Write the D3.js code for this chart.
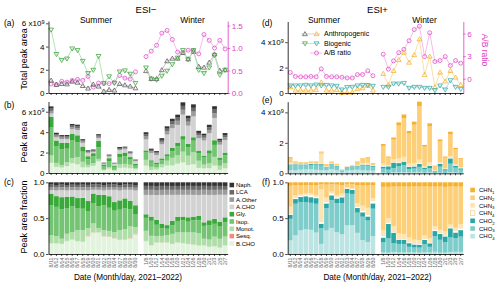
<!DOCTYPE html>
<html>
<head>
<meta charset="utf-8">
<script src="https://cdn.jsdelivr.net/npm/d3@7"></script>
<style>
body { margin: 0; background: #fff; }
svg { font-family: "Liberation Sans", Arial, sans-serif; }
</style>
</head>
<body>
<svg id="chart" width="500" height="286"></svg>
<script>
// sampling dates
const summerDates = ["8/11","8/12","8/14","8/15","8/16","8/17","8/18","8/19","8/20","8/21","8/22","8/23","8/24","8/27","8/28","8/29","8/30"];
const winterDates = ["1/8","1/10","1/12","1/14","1/16","1/18","1/20","1/22","1/24","1/26","1/28","1/30","2/1","2/3","2/5","2/7"];

// (a) ESI- totals, x1e9 (summer then winter)
const negAnth = [1.08,.71,.79,.76,.99,.9,.62,.4,.74,.57,.14,.28,.23,.79,.68,.57,.42,
  1.9,1.22,1.22,1.98,2.75,2.97,2.97,3.46,2.92,3.54,2.27,2.2,2.63,3.34,1.93,1.98];
const negBio = [5.44,3.34,2.83,2.95,3.82,3.68,2.75,1.7,1.98,3.17,.85,1.42,.85,1.84,1.93,1.64,.85,
  2.18,1.22,1.13,1.47,1.9,2.46,3.03,3.68,2.89,3.68,1.98,1.7,2.18,3.26,1.56,1.98];
const negRatio = [.2,.19,.26,.24,.28,.3,.28,.37,.13,.22,.21,.21,.24,.39,.33,.31,.47,
  .81,.93,1.06,1.33,1.39,1.19,.91,.9,.95,.94,.87,1.3,1.17,1.0,1.17,.98];

// (d) ESI+ totals, x1e9
const posAnth = [.47,.21,.21,.21,.21,.26,.84,.21,.21,.24,.02,.05,.05,.31,.39,.58,.21,
  1.52,.65,1.75,2.61,3.19,2.4,3.0,4.24,1.44,2.88,.47,1.62,.92,1.75,1.23,.65];
const posBio = [.58,.58,.58,.63,.58,.65,.58,.62,.58,.55,.26,.45,.47,.58,.62,.62,.55,
  .47,.47,.73,.73,.78,.39,.47,.47,.39,.39,.21,.58,.26,.99,.47,.31];
const posRatio = [.83,.3,.25,.25,.3,.25,1.3,.3,.25,.25,.2,.1,.1,.55,.55,1.05,.4,
  3.25,1.27,2.37,3.46,3.9,5.04,6.53,6.97,2.94,6.1,2.28,2.41,2.94,1.75,2.41,2.06];

// (b) ESI- peak area by class, x1e9
const negBCHO = [.98,.59,.52,.67,.96,.85,.56,.55,.69,1.14,.25,.43,.22,.5,.52,.46,.36,
  .72,.29,.34,.54,.73,.74,.91,1.04,.78,.87,.49,.46,.47,.72,.3,.47];
const negSesq = [.02,.01,.01,.01,.01,.01,.01,.01,.01,.01,.003,.01,.003,.01,.01,.01,.01,
  .01,.005,.004,.01,.01,.01,.01,.01,.01,.01,.01,.01,.01,.01,.01,.01];
const negMonot = [.72,.39,.26,.37,.48,.71,.53,.24,.28,.23,.08,.14,.08,.33,.36,.34,.12,
  .56,.31,.19,.31,.46,.74,.8,1.04,.9,1.14,.7,.35,.47,.85,.4,.47];
const negIsop = [2.73,1.6,1.52,1.33,1.73,1.46,.99,.53,.64,1.14,.35,.58,.3,.73,.75,.5,.23,
  .72,.5,.34,.37,.41,.64,.91,1.17,.84,1.14,.74,.69,.94,1.17,.57,.78];
const negGly = [1.04,.59,.63,.59,.67,.66,.5,.31,.32,.61,.15,.29,.12,.33,.36,.25,.17,
  .2,.14,.15,.2,.23,.32,.34,.35,.34,.34,.25,.19,.33,.46,.23,.27];
const negACHO = [.33,.31,.37,.33,.43,.52,.36,.33,.12,.27,.06,.16,.17,.35,.31,.32,.27,
  1.08,.72,.74,1.38,1.93,1.93,1.74,2.1,1.76,2.04,1.21,1.48,1.67,2.18,1.26,1.23];
const negAOther = [.26,.16,.15,.15,.19,.19,.13,.09,.09,.15,.04,.07,.04,.1,.1,.08,.05,
  .28,.17,.15,.24,.32,.37,.4,.48,.39,.47,.29,.27,.33,.46,.23,.27];
const negLCA = [.23,.14,.13,.13,.17,.16,.12,.08,.08,.13,.035,.06,.035,.09,.09,.07,.05,
  .22,.13,.12,.19,.25,.29,.31,.38,.31,.37,.23,.21,.26,.36,.18,.21];
const negNaph = [.21,.15,.12,.14,.16,.17,.11,.08,.07,.12,.04,.06,.03,.1,.08,.07,.05,
  .2,.12,.11,.17,.23,.27,.29,.35,.28,.34,.21,.19,.24,.33,.17,.2];

// (e) ESI+ peak area by class, x1e9
const posCHO4 = [.2,.2,.24,.25,.26,.23,.2,.2,.28,.19,.07,.18,.21,.23,.19,.18,.17,
  .04,.02,.07,.07,.08,.06,.07,.09,.04,.07,.015,.04,.02,.08,.05,.03];
const posCHO3 = [.32,.34,.29,.27,.29,.31,.31,.19,.3,.25,.11,.2,.23,.22,.32,.32,.26,
  .27,.22,.28,.4,.46,.22,.24,.33,.22,.26,.11,.4,.16,.55,.32,.21];
const posCHO2 = [.06,.05,.05,.06,.06,.06,.09,.04,.05,.04,.02,.03,.03,.05,.06,.06,.05,
  .13,.22,.35,.2,.23,.14,.14,.19,.11,.16,.035,.18,.09,.35,.13,.09];
const posCHN4 = [.01,.01,.01,.01,.02,.01,.03,.01,.02,.01,.003,.005,.005,.01,.02,.02,.02,
  .04,.02,.02,.03,.04,.03,.03,.05,.02,.03,.01,.02,.01,.03,.03,.02];
const posCHN3 = [.11,.03,.02,.02,.02,.02,.65,.04,.02,.02,.01,.005,.005,.04,.07,.11,.03,
  .15,.07,.19,.27,.27,.19,.2,.24,.09,.2,.025,.11,.07,.11,.08,.06];
const posCHN2 = [.31,.11,.09,.08,.09,.11,.1,.11,.08,.09,.03,.02,.03,.2,.28,.34,.12,
  1.17,.48,1.3,2.17,2.55,1.97,2.51,3.52,1.27,2.36,.275,1.34,.68,1.45,.96,.52];
const posCHN1 = [.05,.03,.03,.03,.03,.03,.04,.02,.02,.02,.01,.01,.015,.03,.04,.04,.03,
  .12,.07,.14,.2,.23,.17,.2,.28,.11,.2,.03,.13,.07,.16,.1,.06];

const negKeys = ["B.CHO","Sesq.","Monot.","Isop.","Gly.","A.CHO","A.Other","LCA","Naph."];
const negSeries = [negBCHO,negSesq,negMonot,negIsop,negGly,negACHO,negAOther,negLCA,negNaph];
const negColors = ["#e2f3de","#f08a80","#b0dea9","#74c474","#39aa39","#d2d2d2","#9b9b9b","#6a6a6a","#333333"];

const posKeys = ["CHO4","CHO3","CHO2","CHN4","CHN3","CHN2","CHN1"];
const posSeries = [posCHO4,posCHO3,posCHO2,posCHN4,posCHN3,posCHN2,posCHN1];
const posColors = ["#bce4e3","#7ecdcb","#2aa6a4","#ffffff","#fde4b3","#fccf78","#f6b12f"];

const magenta = "#dc3ec4";
const svg = d3.select("#chart");
const dates = summerDates.concat(winterDates);
const slots = summerDates.concat(["gap"], winterDates);

function bandX(x0, x1) {
  return d3.scaleBand().domain(slots).range([x0, x1]).paddingInner(0.1).paddingOuter(0.05);
}
const xL = bandX(48.5, 227.7);
const xR = bandX(287.7, 463.3);

const yA = d3.scaleLinear([0, 6.2], [93, 21]);
const yAr = d3.scaleLinear([0, 1.6], [93, 21]);
const yB = d3.scaleLinear([0, 7], [173, 101.5]);
const yC = d3.scaleLinear([0, 1], [254, 182.3]);
const yD = d3.scaleLinear([0, 5.63], [93, 21.5]);
const yDr = d3.scaleLinear([-1.9, 7.6], [93, 21.5]);
const yE = d3.scaleLinear([0, 4.7], [173.3, 101.7]);

function styleAxis(g, color) {
  g.select(".domain").attr("stroke", color).attr("stroke-width", 0.8);
  g.selectAll(".tick line").attr("stroke", color).attr("stroke-width", 0.7);
  g.selectAll(".tick text").attr("font-size", 8).attr("fill", color);
}

function leftAxis(y, x, ticks, sci) {
  const g = svg.append("g").attr("transform", `translate(${x},0)`)
    .call(d3.axisLeft(y).tickValues(ticks).tickSize(2.5).tickPadding(1.5).tickSizeOuter(0)
      .tickFormat(sci ? d3.format("d") : d3.format(".1f")));
  styleAxis(g, "#000");
  if (sci) {
    const top = ticks[ticks.length - 1];
    g.selectAll(".tick text").filter(d => d === top).text(null).each(function() {
      const t = d3.select(this);
      t.append("tspan").text(top + " x10");
      t.append("tspan").attr("dy", "-0.5em").attr("font-size", 5.5).text("9");
    });
  }
}

function rightAxis(y, x, ticks, fmt) {
  const g = svg.append("g").attr("transform", `translate(${x},0)`)
    .call(d3.axisRight(y).tickValues(ticks).tickSize(2.5).tickPadding(1.5).tickSizeOuter(0).tickFormat(fmt));
  styleAxis(g, magenta);
}

function bottomAxis(x, y, labels) {
  const g = svg.append("g").attr("transform", `translate(0,${y})`)
    .call(d3.axisBottom(x).tickSize(2).tickSizeOuter(0).tickFormat(d => labels && d !== "gap" ? d : ""));
  styleAxis(g, "#000");
  if (labels) {
    g.selectAll(".tick text")
      .attr("transform", "rotate(-90)")
      .attr("text-anchor", "end")
      .attr("x", -3.5).attr("y", 0).attr("dy", "0.35em")
      .attr("font-size", 5.3).attr("fill", "#666");
  }
}

function drawStack(x, y, keys, series, colors, expand) {
  const rows = dates.map((d, i) => {
    const r = { date: d };
    keys.forEach((k, j) => { r[k] = series[j][i]; });
    return r;
  });
  const stack = d3.stack().keys(keys);
  if (expand) stack.offset(d3.stackOffsetExpand);
  svg.append("g").selectAll("g").data(stack(rows)).join("g")
    .attr("fill", (d, i) => colors[i])
    .selectAll("rect").data(d => d).join("rect")
    .attr("x", d => x(d.data.date))
    .attr("y", d => y(d[1]))
    .attr("width", x.bandwidth())
    .attr("height", d => Math.max(0, y(d[0]) - y(d[1])));
}

function marker(g, shape, cx, cy, color) {
  if (shape === "circle") {
    g.append("circle").attr("cx", cx).attr("cy", cy).attr("r", 2)
      .attr("fill", "none").attr("stroke", color).attr("stroke-width", 0.7);
  } else {
    const s = shape === "up" ? 1 : -1;
    g.append("path")
      .attr("d", `M${cx},${cy - 2.4 * s}L${cx + 2.4},${cy + 1.7 * s}L${cx - 2.4},${cy + 1.7 * s}Z`)
      .attr("fill", "none").attr("stroke", color).attr("stroke-width", 0.7);
  }
}

function drawSeries(x, y, values, lineColor, color, shape) {
  const pts = dates.map((d, i) => ({ date: d, v: values[i], s: i < summerDates.length ? 0 : 1 }));
  const cx = p => x(p.date) + x.bandwidth() / 2;
  const line = d3.line().x(cx).y(p => y(p.v));
  const g = svg.append("g");
  [0, 1].forEach(s => g.append("path").datum(pts.filter(p => p.s === s)).attr("d", line)
    .attr("fill", "none").attr("stroke", lineColor).attr("stroke-width", 0.8));
  pts.forEach(p => marker(g, shape, cx(p), y(p.v), color));
}

// ---- ESI- ----
drawSeries(xL, yAr, negRatio, "#f2aae6", magenta, "circle");
drawSeries(xL, yA, negAnth, "#b8b8b8", "#4d4d4d", "up");
drawSeries(xL, yA, negBio, "#a3dca3", "#2f9e2f", "down");
leftAxis(yA, 48.5, [0, 2, 4, 6], true);
rightAxis(yAr, 227.7, [0, 0.5, 1, 1.5], d3.format(".1f"));
bottomAxis(xL, 93, false);

drawStack(xL, yB, negKeys, negSeries, negColors, false);
leftAxis(yB, 48.5, [0, 2, 4, 6], true);
bottomAxis(xL, 173, false);

drawStack(xL, yC, negKeys, negSeries, negColors, true);
leftAxis(yC, 48.5, [0, 0.5, 1], false);
bottomAxis(xL, 254, true);

// ---- ESI+ ----
drawSeries(xR, yDr, posRatio, "#f2aae6", magenta, "circle");
drawSeries(xR, yD, posAnth, "#fbd592", "#f2ac1e", "up");
drawSeries(xR, yD, posBio, "#9ad6d5", "#25a4a2", "down");
leftAxis(yD, 287.7, [0, 2, 4], true);
rightAxis(yDr, 463.3, [0, 3, 6], d3.format("d"));
bottomAxis(xR, 93, false);

drawStack(xR, yE, posKeys, posSeries, posColors, false);
leftAxis(yE, 287.7, [0, 2, 4], true);
bottomAxis(xR, 173.3, false);

drawStack(xR, yC, posKeys, posSeries, posColors, true);
leftAxis(yC, 287.7, [0, 0.5, 1], false);
bottomAxis(xR, 254, true);

// ---- texts ----
function txt(x, y, s, size, opts) {
  const o = opts || {};
  const t = svg.append("text").attr("x", x).attr("y", y).attr("font-size", size)
    .attr("text-anchor", o.anchor || "start").attr("fill", o.fill || "#000").text(s);
  if (o.rotate) t.attr("transform", `rotate(${o.rotate},${x},${y})`);
  return t;
}
txt(146, 12.5, "ESI\u2212", 9.5, { anchor: "middle" });
txt(96, 23, "Summer", 8.5, { anchor: "middle" });
txt(192.5, 23, "Winter", 8.5, { anchor: "middle" });
txt(377.5, 12.5, "ESI+", 9.5, { anchor: "middle" });
txt(324, 23, "Summer", 8.5, { anchor: "middle" });
txt(424.5, 23, "Winter", 8.5, { anchor: "middle" });

[["(a)", 4, 26], ["(b)", 4, 108], ["(c)", 4, 185], ["(d)", 262, 26], ["(e)", 262, 103], ["(f)", 262, 185]]
  .forEach(p => txt(p[1], p[2], p[0], 8.5));

txt(27, 59, "Total peak area", 9, { anchor: "middle", rotate: -90 });
txt(27, 142, "Peak area", 9, { anchor: "middle", rotate: -90 });
txt(27, 217, "Peak area fraction", 9, { anchor: "middle", rotate: -90 });
txt(482, 50, "A/B ratio", 8.5, { anchor: "middle", rotate: 90, fill: magenta });
txt(128, 280, "Date (Month/day, 2021\u20132022)", 8.2, { anchor: "middle" });
txt(377.5, 280, "Date (Month/day, 2021\u20132022)", 8.2, { anchor: "middle" });

// legend in (d)
const lg = svg.append("g");
lg.append("line").attr("x1", 301).attr("x2", 320).attr("y1", 34).attr("y2", 34).attr("stroke", "#c8c8c8").attr("stroke-width", 0.8);
marker(lg, "up", 305, 34, "#4d4d4d");
marker(lg, "up", 316.5, 34, "#f2ac1e");
lg.append("line").attr("x1", 301).attr("x2", 320).attr("y1", 43.5).attr("y2", 43.5).attr("stroke", "#b5dcd0").attr("stroke-width", 0.8);
marker(lg, "down", 305, 43.5, "#2f9e2f");
marker(lg, "down", 316.5, 43.5, "#25a4a2");
lg.append("line").attr("x1", 310).attr("x2", 322).attr("y1", 53).attr("y2", 53).attr("stroke", "#f2aae6").attr("stroke-width", 0.8);
marker(lg, "circle", 316.5, 53, magenta);
txt(324, 36.3, "Anthropogenic", 7);
txt(324, 45.8, "Biogenic", 7);
txt(324, 55.3, "A/B ratio", 7);

// legend for (c)
const negLegend = negKeys.slice().reverse();
const negLegendColors = negColors.slice().reverse();
negLegend.forEach((k, i) => {
  const cy = 185 + i * 7.3;
  svg.append("rect").attr("x", 229.5).attr("y", cy - 2.3).attr("width", 4.6).attr("height", 4.6).attr("fill", negLegendColors[i]);
  txt(236, cy + 2.1, k, 6);
});

// legend for (f)
const posLegend = posKeys.slice().reverse();
const posLegendColors = posColors.slice().reverse();
posLegend.forEach((k, i) => {
  const cy = 190 + i * 7.7;
  svg.append("rect").attr("x", 470.3).attr("y", cy - 2.3).attr("width", 4.6).attr("height", 4.6)
    .attr("fill", posLegendColors[i])
    .attr("stroke", k === "CHN4" ? "#f6c766" : "none").attr("stroke-width", 0.6);
  const t = txt(479, cy + 2.1, null, 6);
  t.append("tspan").text(k.slice(0, 3));
  t.append("tspan").attr("dy", 1.6).attr("font-size", 4.3).text(k.slice(3));
});
</script>
</body>
</html>
